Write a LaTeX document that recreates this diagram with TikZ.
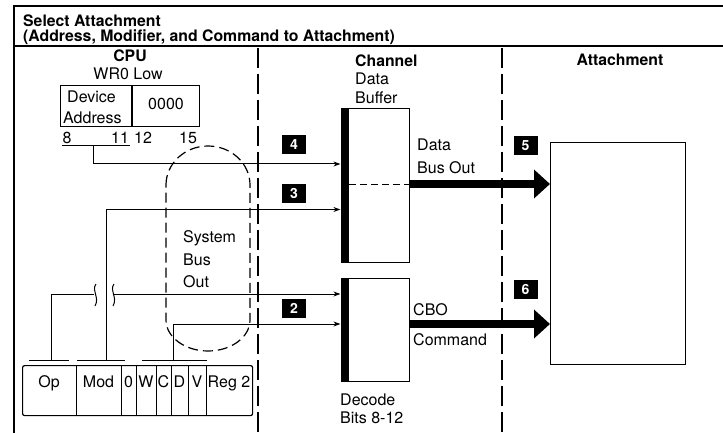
\documentclass[tikz,border=0pt]{standalone}
\usepackage{fontspec}
\setmainfont{TeX Gyre Heros}
\usetikzlibrary{arrows.meta}
\begin{document}
\begin{tikzpicture}[x=1pt,y=-1pt,
  txt/.style={inner sep=0pt,anchor=base west,font=\fontsize{16}{18}\selectfont},
  ctxt/.style={txt,anchor=base},
  btxt/.style={inner sep=0pt,anchor=base west,font=\fontsize{15.8}{18}\selectfont\bfseries},
  frame/.style={line width=1.3pt},
  sepline/.style={line width=1.4pt,dash pattern=on 20pt off 6pt},
  box/.style={draw,line width=1.2pt,inner sep=0pt},
  sig/.style={line width=1pt,-{Stealth[length=7pt,width=5pt]}},
  wire/.style={line width=1pt},
  fat/.style={line width=8.5pt,-{Triangle[length=16pt,width=28pt]}},
  tag/.style={fill=black,text=white,inner sep=0pt,minimum width=24pt,minimum height=19pt,font=\fontsize{14}{14}\selectfont\bfseries},
  barbox/.style={fill=black,inner sep=0pt,minimum width=8pt,anchor=north west},
  stadium/.style={line width=1.2pt,dash pattern=on 10pt off 5pt},
]
\useasboundingbox (0,0) rectangle (723,433);
\fill[white] (0,0) rectangle (723,433);

% frame and title
\draw[frame] (14,433) -- (14,6) -- (723,6);
\draw[frame] (14,46) -- (723,46);
\node[btxt] (title1) at (23,27) {Select Attachment};
\node[btxt] (title2) at (23,42) {(Address, Modifier, and Command to Attachment)};

% column separators
\draw[sepline] (258,48) -- (258,433);
\draw[sepline] (502,48) -- (502,433);

% CPU column
\node[btxt,anchor=base] (cpu) at (130,62) {CPU};
\node[ctxt] (wr0lbl) at (128,80) {WR0 Low};
\node[box,minimum width=139pt,minimum height=41pt,anchor=north west] (wr0) at (60,85) {};
\draw[line width=1.2pt] (132,85) -- (132,126);
\node[txt] (dev) at (67,103) {Device};
\node[txt] (addr) at (63,124) {Address};
\node[ctxt] (zeros) at (166,110) {0000};
\node[ctxt] (b8) at (67,143) {8};
\node[ctxt] (b11) at (120,143) {11};
\node[ctxt] (b12) at (143,143) {12};
\node[ctxt] (b15) at (188,143) {15};
\draw[wire] (62,146) -- (130,146);

% system bus out
\draw[stadium] (166,185) .. controls (166,163.5) and (184.8,146) .. (208,146)
  .. controls (231.2,146) and (250,163.5) .. (250,185) -- (250,320)
  .. controls (250,337.1) and (231.2,351) .. (208,351)
  .. controls (184.8,351) and (166,337.1) .. (166,320) -- cycle;
\node[txt] (sys1) at (183,242) {System};
\node[txt] (sys2) at (183,265) {Bus};
\node[txt] (sys3) at (183,287) {Out};

% instruction register
\node[box,rounded corners=2pt,minimum width=230pt,minimum height=50pt,anchor=north west] (ir) at (22,365) {};
\foreach \xx in {76,121,136,156,171,188,206} \draw[wire] (\xx,365) -- (\xx,415);
\node[ctxt] (fop) at (49,387) {Op};
\node[ctxt] (fmod) at (98.5,387) {Mod};
\node[ctxt] (f0) at (128.5,387) {0};
\node[ctxt] (fw) at (146,387) {W};
\node[ctxt] (fc) at (163.5,387) {C};
\node[ctxt] (fd) at (179.5,387) {D};
\node[ctxt] (fv) at (197,387) {V};
\node[ctxt] (freg) at (229,387) {Reg 2};
\draw[wire] (29,360) -- (69,360);
\draw[wire] (77,360) -- (125,360);
\draw[wire] (142,360) -- (207,360);

% channel column
\node[btxt] (chan) at (355,67) {Channel};
\node[txt] (cdata) at (355,85) {Data};
\node[txt] (cbuf) at (355,104) {Buffer};
\node[box,minimum width=68pt,minimum height=154pt,anchor=north west] (buf) at (341,108) {};
\node[barbox,minimum height=155pt] (bufbar) at (340.4,107.4) {};
\node[box,minimum width=68pt,minimum height=103pt,anchor=north west] (dec) at (341,278) {};
\node[barbox,minimum height=104pt] (decbar) at (340.4,277.4) {};
\node[txt] (dbo1) at (417,150) {Data};
\node[txt] (dbo2) at (417,173) {Bus Out};
\node[txt] (cbo1) at (413,315) {CBO};
\node[txt] (cbo2) at (413,345) {Command};
\node[txt] (dec1) at (340,405) {Decode};
\node[txt] (dec2) at (340,423) {Bits 8-12};

% attachment column
\node[btxt,anchor=base] (attl) at (620,66) {Attachment};
\node[box,minimum width=135pt,minimum height=222pt,anchor=north west] (att) at (550,142) {};

% tags
\node[tag] (t4) at (294,145) {4};
\node[tag] (t3) at (294,193.5) {3};
\node[tag] (t2) at (294,308.5) {2};
\node[tag] (t5) at (525.5,146) {5};
\node[tag] (t6) at (525.5,289.5) {6};

% coordinates for wiring
\coordinate (y4) at (0,164);
\coordinate (y3) at (0,209.5);
\coordinate (y1) at (0,294);
\coordinate (y2) at (0,324);
\coordinate (y5) at (0,184);
\coordinate (y6) at (0,324);
\coordinate (b811) at (93,146);
\coordinate (opb) at (51,360);
\coordinate (modb) at (106,360);
\coordinate (cb) at (173,360);
\coordinate (brk1) at (94,294);
\coordinate (brk2) at (114,294);

% thin signals
\draw[sig] (b811) |- (bufbar.west |- y4);
\draw[sig] (modb) |- (bufbar.west |- y3);
\draw[wire] (opb) |- (brk1);
\draw[sig] (brk2) -- (decbar.west |- y1);
\draw[sig] (cb) |- (decbar.west |- y2);
% break marks
\draw[wire] (96,284) .. controls (91,291) and (100,297) .. (95,306);
\draw[wire] (114,284) .. controls (109,291) and (118,297) .. (113,306);

% buffer split and fat buses
\draw[line width=1pt,dash pattern=on 7pt off 4pt] (bufbar.east |- y5) -- (buf.east |- y5);
\draw[fat] (buf.east |- y5) -- (att.west |- y5);
\draw[fat] (dec.east |- y6) -- (att.west |- y6);
\end{tikzpicture}
\end{document}
